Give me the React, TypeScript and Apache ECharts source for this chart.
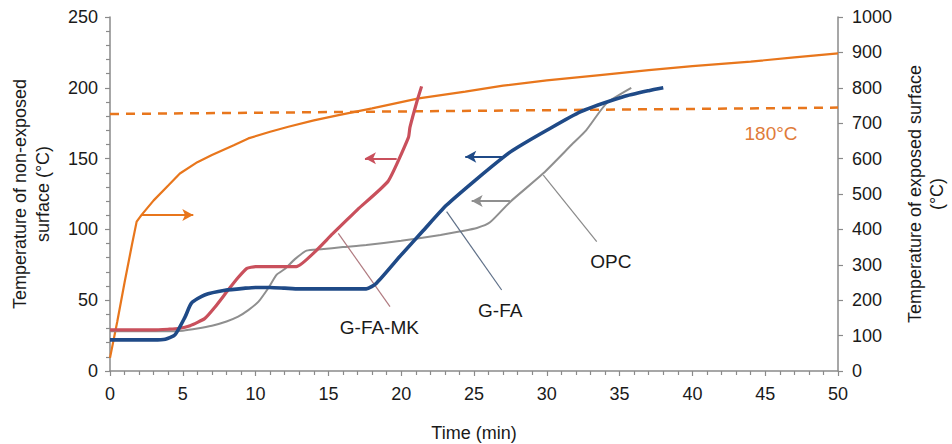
import React, { useEffect, useRef } from "react";
import * as echarts from "echarts";

// Time (min) vs temperature
const exposedSurface: [number, number][] = [
  [0, 37], [0.5, 140], [1, 250], [1.5, 355], [1.83, 422], [2.17, 441], [3, 482], [4, 524],
  [4.8, 558], [6, 590], [7, 610], [8.5, 638], [9.5, 657], [11, 676], [12.25, 690], [14, 708],
  [15.7, 723], [18, 742], [21.2, 770], [24.4, 789], [27, 806], [30, 821], [33.65, 836],
  [37, 850], [40, 861], [44, 874], [47, 886], [50, 897],
];

const gfamk: [number, number][] = [
  [0, 29], [1, 29], [2, 29], [3, 29], [4, 29.5], [4.7, 30], [5.5, 32], [6.5, 37], [7.2, 45],
  [8.1, 57], [8.8, 66], [9.4, 72.5], [10, 73.7], [11, 73.7], [12, 73.7], [12.8, 73.7],
  [15.3, 97], [17, 114], [19.1, 134], [20.5, 165], [20.6, 172], [21.1, 191], [21.4, 201],
];

const gfa: [number, number][] = [
  [0, 22], [1, 22], [2, 22], [3, 22], [3.8, 22.5], [4.46, 25.5], [5.15, 38], [5.6, 48],
  [6.5, 53.7], [7.9, 57], [9.3, 58.5], [10, 59], [11, 59], [12, 58.5], [13, 58], [14, 58],
  [15, 58], [16, 58], [17.6, 58], [18.3, 62], [20, 82], [21.5, 99], [23.1, 117], [25, 134],
  [27.2, 152.5], [28, 158], [30, 170], [32.3, 183], [35.25, 193.7], [37, 198], [38, 200],
];

const opc: [number, number][] = [
  [0, 28], [1, 28], [2, 28], [3, 28], [4, 28], [5, 28.5], [6, 30], [7, 32], [8, 35],
  [8.8, 38.4], [9.5, 43], [10.2, 49], [10.9, 59], [11.45, 68], [12, 72], [12.7, 79],
  [13.5, 85], [14.5, 86], [16, 87.5], [17.6, 89], [20, 92], [22.7, 96], [24, 98.5],
  [25.2, 101], [26.1, 105], [27.5, 119.6], [29.76, 139.6], [31.8, 160.8], [32.7, 170],
  [34.1, 189], [35.8, 200],
];

const limitLine: [number, number][] = [[0, 181.5], [50, 186]];

const xTicks = { min: 0, max: 50, interval: 5 };
const leftTicks = { min: 0, max: 250, interval: 50 };
const rightTicks = { min: 0, max: 1000, interval: 100 };

const limitLabel = "180°C";
const leftName = "Temperature of non-exposed\nsurface (°C)";
const rightName = "Temperature of exposed surface\n(°C)";
const xName = "Time (min)";

// annotation arrows / leaders in data coordinates
const orangeArrow: [number, number][] = [[2.17, 441], [5.72, 441]];
const redArrow: [number, number][] = [[19.69, 150.2], [17.51, 150.2]];
const blueArrow: [number, number][] = [[27.0, 151.3], [24.4, 151.3]];
const grayArrow: [number, number][] = [[27.47, 120], [24.84, 120]];
const redLeader: [number, number][] = [[15.68, 97.2], [19.23, 45.4]];
const blueLeader: [number, number][] = [[23.12, 112.5], [26.9, 57.2]];
const grayLeader: [number, number][] = [[29.76, 138.4], [33.43, 91.3]];
const redLabelPos: [number, number] = [18.5, 31];
const blueLabelPos: [number, number] = [26.8, 43];
const grayLabelPos: [number, number] = [34.4, 77];
const limitLabelPos: [number, number] = [45.4, 168];

const FONT = "Liberation Sans, Arial, Helvetica, sans-serif";
const ORANGE = "#E8761C";
const RED = "#C9505C";
const BLUE = "#1F4A87";
const GRAY = "#8F8F8F";
const AXIS = "#8A8A8A";

function arrowLine(pts: [number, number][], color: string, width: number, arrow: boolean) {
  return [
    { coord: pts[0], symbol: "none", lineStyle: { color, width, type: "solid" } },
    {
      coord: pts[1],
      symbol: arrow ? "arrow" : "none",
      symbolSize: arrow ? [9, 11] : 0,
      lineStyle: { color, width, type: "solid" },
    },
  ];
}

function textPoint(pos: [number, number], text: string, color: string) {
  return {
    coord: pos,
    symbol: "rect",
    symbolSize: 1,
    itemStyle: { color: "rgba(0,0,0,0)" },
    label: {
      show: true,
      position: "inside",
      formatter: text,
      color,
      fontSize: 19,
      fontFamily: FONT,
    },
  };
}

export default function App() {
  const ref = useRef<HTMLDivElement>(null);
  useEffect(() => {
    document.body.style.margin = "0";
    document.documentElement.style.overflow = "hidden";
    if (!ref.current) return;
    const chart = echarts.init(ref.current, undefined, { renderer: "svg" });
    const axisCommon = {
      axisLine: { show: true, lineStyle: { color: AXIS, width: 1.5 } },
      axisTick: { show: true, length: 5, lineStyle: { color: AXIS, width: 1.2 } },
      splitLine: { show: false },
      axisLabel: { color: "#1a1a1a", fontSize: 18, fontFamily: FONT },
      nameTextStyle: { color: "#1a1a1a", fontSize: 18, fontFamily: FONT, lineHeight: 23 },
    };
    chart.setOption({
      animation: false,
      backgroundColor: "#ffffff",
      grid: { left: 110, right: 114, top: 17, bottom: 73, containLabel: false, outerBoundsMode: "none" },
      xAxis: {
        type: "value",
        ...xTicks,
        ...axisCommon,
        minorTick: { show: true, splitNumber: 5, length: 4, lineStyle: { color: AXIS, width: 1.2 } },
        axisLabel: { ...axisCommon.axisLabel, margin: 14 },
        name: xName,
        nameLocation: "middle",
        nameGap: 50,
      },
      yAxis: [
        {
          type: "value",
          position: "left",
          ...leftTicks,
          ...axisCommon,
          minorTick: { show: true, splitNumber: 5, length: 4, lineStyle: { color: AXIS, width: 1.2 } },
          axisLabel: { ...axisCommon.axisLabel, margin: 12 },
          name: leftName,
          nameLocation: "middle",
          nameRotate: 90,
          nameGap: 56,
        },
        {
          type: "value",
          position: "right",
          ...rightTicks,
          ...axisCommon,
          axisLabel: { ...axisCommon.axisLabel, margin: 14, formatter: (v: number) => String(v) },
          name: rightName,
          nameLocation: "middle",
          nameRotate: 90,
          nameGap: 66,
          nameTextStyle: { ...axisCommon.nameTextStyle, lineHeight: 22 },
        },
      ],
      series: [
        {
          name: "limit",
          type: "line",
          yAxisIndex: 0,
          data: limitLine,
          showSymbol: false,
          lineStyle: { color: ORANGE, width: 2.5, type: [9, 7] },
          silent: true,
          markPoint: { silent: true, data: [textPoint(limitLabelPos, limitLabel, "#E07B39")] },
          z: 1,
        },
        {
          name: "Exposed",
          type: "line",
          yAxisIndex: 1,
          data: exposedSurface,
          showSymbol: false,
          lineStyle: { color: ORANGE, width: 2.2 },
          silent: true,
          markLine: { silent: true, label: { show: false }, data: [arrowLine(orangeArrow, ORANGE, 2.2, true)] },
          z: 2,
        },
        {
          name: "OPC",
          type: "line",
          yAxisIndex: 0,
          data: opc,
          showSymbol: false,
          smooth: 0.2,
          lineStyle: { color: GRAY, width: 2 },
          silent: true,
          markLine: {
            silent: true,
            label: { show: false },
            data: [arrowLine(grayArrow, GRAY, 1.8, true), arrowLine(grayLeader, "#8a8a8a", 1.2, false)],
          },
          markPoint: { silent: true, data: [textPoint(grayLabelPos, "OPC", "#1a1a1a")] },
          z: 3,
        },
        {
          name: "G-FA-MK",
          type: "line",
          yAxisIndex: 0,
          data: gfamk,
          showSymbol: false,
          smooth: 0.15,
          lineStyle: { color: RED, width: 3.2 },
          silent: true,
          markLine: {
            silent: true,
            label: { show: false },
            data: [arrowLine(redArrow, RED, 1.8, true), arrowLine(redLeader, "#B07A80", 1.2, false)],
          },
          markPoint: { silent: true, data: [textPoint(redLabelPos, "G-FA-MK", "#1a1a1a")] },
          z: 4,
        },
        {
          name: "G-FA",
          type: "line",
          yAxisIndex: 0,
          data: gfa,
          showSymbol: false,
          smooth: 0.2,
          lineStyle: { color: BLUE, width: 3.6 },
          silent: true,
          markLine: {
            silent: true,
            label: { show: false },
            data: [arrowLine(blueArrow, BLUE, 1.8, true), arrowLine(blueLeader, "#5F7088", 1.2, false)],
          },
          markPoint: { silent: true, data: [textPoint(blueLabelPos, "G-FA", "#1a1a1a")] },
          z: 5,
        },
      ],
    });
    return () => chart.dispose();
  }, []);
  return (
    <>
      <style>{"html,body{margin:0;padding:0;overflow:hidden;}"}</style>
      <div ref={ref} style={{ width: 952, height: 444 }} />
    </>
  );
}
